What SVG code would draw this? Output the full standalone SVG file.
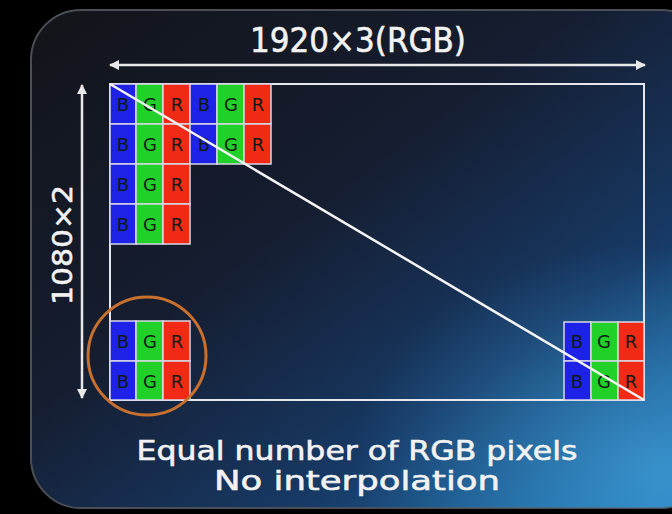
<svg xmlns="http://www.w3.org/2000/svg" width="672" height="514" viewBox="0 0 672 514">
<defs>
<linearGradient id="bg" x1="0" y1="0" x2="1" y2="1">
<stop offset="0" stop-color="#121418"/>
<stop offset="0.4" stop-color="#151d30"/>
<stop offset="0.7" stop-color="#173a66"/>
<stop offset="1" stop-color="#2080c0"/>
</linearGradient>
<radialGradient id="glow" cx="0.92" cy="0.92" r="0.45">
<stop offset="0" stop-color="#4aa8e0" stop-opacity="0.6"/>
<stop offset="1" stop-color="#3a9ad8" stop-opacity="0"/>
</radialGradient>
<marker id="ah" viewBox="0 0 10 10" refX="9" refY="5" markerWidth="4" markerHeight="4" orient="auto-start-reverse">
<path d="M0,0 L10,5 L0,10 z" fill="#e8e8e8"/>
</marker>
<style>
.cell{stroke:#d8d8e8;stroke-width:1.5}
.b{fill:#1e22e6}
.g{fill:#22d02a}
.r{fill:#f02a14}
.lt{font-family:"DejaVu Sans","Liberation Sans",sans-serif;font-size:18px;fill:#0e1a12;text-anchor:middle}
.w{font-family:"DejaVu Sans","Liberation Sans",sans-serif;fill:#f2f2f2;text-anchor:middle;stroke:#f2f2f2;stroke-width:0.6}
</style>
</defs>
<rect width="672" height="514" fill="#000"/>
<rect x="31" y="10" width="680" height="498" rx="50" fill="url(#bg)" stroke="#4a4e56" stroke-width="2"/>
<rect x="31" y="10" width="680" height="498" rx="50" fill="url(#glow)"/>

<g id="title"><text class="w" x="358" y="52" font-size="33" textLength="216" lengthAdjust="spacingAndGlyphs">1920×3(RGB)</text></g>
<g id="vlabel"><text class="w" x="0" y="0" font-size="27" textLength="120" lengthAdjust="spacingAndGlyphs" transform="translate(72,245) rotate(-90)">1080×2</text></g>

<g id="frame"><rect x="110" y="84" width="534" height="316" fill="none" stroke="#e6e6ee" stroke-width="2"/></g>

<g id="cells-top">
<rect class="cell b" x="110" y="84" width="26" height="40"/><rect class="cell g" x="136" y="84" width="27" height="40"/><rect class="cell r" x="163" y="84" width="27" height="40"/>
<rect class="cell b" x="190" y="84" width="27" height="40"/><rect class="cell g" x="217" y="84" width="27" height="40"/><rect class="cell r" x="244" y="84" width="27" height="40"/>
<rect class="cell b" x="110" y="124" width="26" height="40"/><rect class="cell g" x="136" y="124" width="27" height="40"/><rect class="cell r" x="163" y="124" width="27" height="40"/>
<rect class="cell b" x="190" y="124" width="27" height="40"/><rect class="cell g" x="217" y="124" width="27" height="40"/><rect class="cell r" x="244" y="124" width="27" height="40"/>
<rect class="cell b" x="110" y="164" width="26" height="40"/><rect class="cell g" x="136" y="164" width="27" height="40"/><rect class="cell r" x="163" y="164" width="27" height="40"/>
<rect class="cell b" x="110" y="204" width="26" height="40"/><rect class="cell g" x="136" y="204" width="27" height="40"/><rect class="cell r" x="163" y="204" width="27" height="40"/>
<text class="lt" x="123" y="111">B</text><text class="lt" x="150" y="111">G</text><text class="lt" x="177" y="111">R</text><text class="lt" x="204" y="111">B</text><text class="lt" x="231" y="111">G</text><text class="lt" x="258" y="111">R</text>
<text class="lt" x="123" y="151">B</text><text class="lt" x="150" y="151">G</text><text class="lt" x="177" y="151">R</text><text class="lt" x="204" y="151">B</text><text class="lt" x="231" y="151">G</text><text class="lt" x="258" y="151">R</text>
<text class="lt" x="123" y="191">B</text><text class="lt" x="150" y="191">G</text><text class="lt" x="177" y="191">R</text>
<text class="lt" x="123" y="231">B</text><text class="lt" x="150" y="231">G</text><text class="lt" x="177" y="231">R</text>
</g>

<g id="cells-bl">
<rect class="cell b" x="110" y="321" width="26" height="40"/><rect class="cell g" x="136" y="321" width="27" height="40"/><rect class="cell r" x="163" y="321" width="27" height="40"/>
<rect class="cell b" x="110" y="361" width="26" height="39"/><rect class="cell g" x="136" y="361" width="27" height="39"/><rect class="cell r" x="163" y="361" width="27" height="39"/>
<text class="lt" x="123" y="348">B</text><text class="lt" x="150" y="348">G</text><text class="lt" x="177" y="348">R</text>
<text class="lt" x="123" y="388">B</text><text class="lt" x="150" y="388">G</text><text class="lt" x="177" y="388">R</text>
</g>

<g id="cells-br">
<rect class="cell b" x="564" y="322" width="27" height="39"/><rect class="cell g" x="591" y="322" width="27" height="39"/><rect class="cell r" x="618" y="322" width="26" height="39"/>
<rect class="cell b" x="564" y="361" width="27" height="39"/><rect class="cell g" x="591" y="361" width="27" height="39"/><rect class="cell r" x="618" y="361" width="26" height="39"/>
<text class="lt" x="577" y="348">B</text><text class="lt" x="604" y="348">G</text><text class="lt" x="631" y="348">R</text>
<text class="lt" x="577" y="388">B</text><text class="lt" x="604" y="388">G</text><text class="lt" x="631" y="388">R</text>
</g>

<g id="highlight"><circle cx="147" cy="356" r="59" fill="none" stroke="#c8702e" stroke-width="3"/></g>

<g id="connectors" stroke="#e8e8e8" stroke-width="2.5" fill="none">
<line x1="110" y1="65" x2="645" y2="65" marker-start="url(#ah)" marker-end="url(#ah)"/>
<line x1="82" y1="85" x2="82" y2="398" marker-start="url(#ah)" marker-end="url(#ah)"/>
<line x1="110" y1="84" x2="644" y2="400" stroke="#f4f4f4" stroke-width="2.5"/>
</g>

<g id="caption">
<text class="w" x="357" y="460" font-size="27" textLength="441" lengthAdjust="spacingAndGlyphs">Equal number of RGB pixels</text>
<text class="w" x="357" y="490" font-size="27" textLength="286" lengthAdjust="spacingAndGlyphs">No interpolation</text>
</g>
</svg>
